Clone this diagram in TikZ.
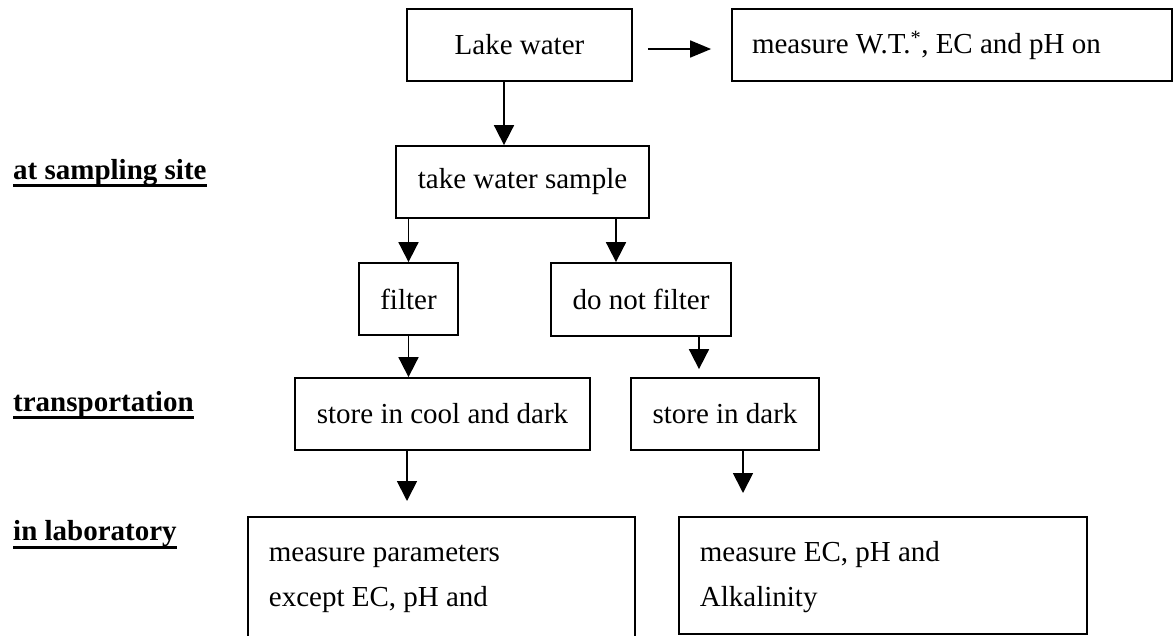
\documentclass[tikz,border=0pt]{standalone}
\usepackage{fontspec}
\setmainfont{Liberation Serif}
\usetikzlibrary{arrows.meta}
\begin{document}
\begin{tikzpicture}[x=1pt,y=-1pt,
  every node/.style={font=\fontsize{29}{45}\selectfont},
  box/.style={draw, line width=1.8pt, inner sep=0pt, minimum height=72pt},
  lbox/.style={draw, line width=1.8pt, anchor=north west, align=flush left, inner xsep=21pt, inner ysep=0pt, text height=45pt},
  lab/.style={anchor=base west, inner sep=0pt, font=\bfseries\fontsize{29}{35}\selectfont},
  ul/.style={line width=3pt},
  arr/.style={line width=1.8pt, -{Triangle[length=20pt,width=20pt]}},
  harr/.style={line width=1.8pt, -{Triangle[length=21pt,width=17pt]}},
]
\useasboundingbox (0,0) rectangle (1173,635);
\clip (0,0) rectangle (1173,635);

% boxes
\node[box, minimum width=225pt] (lake) at (519.5,45) {Lake water};
\node[box, minimum width=440pt, text width=400pt, align=flush left, inner xsep=20pt] (meas) at (952,45) {measure W.T.\textsuperscript{*}, EC and pH on};
\node[box, minimum width=253pt] (take) at (522.5,182) {take water sample};
\node[box, minimum width=99pt] (filter) at (408.5,299) {filter};
\node[box, minimum width=180pt, minimum height=73pt] (dnf) at (641,299.5) {do not filter};
\node[box, minimum width=295pt] (cool) at (442.5,414) {store in cool and dark};
\node[box, minimum width=188pt] (dark) at (725,414) {store in dark};
\node[lbox, text width=345pt, text depth=139pt] (labL) at (247,516) {measure parameters\\ except EC, pH and};
\node[lbox, text width=366pt, text depth=72pt] (labR) at (678,516) {measure EC, pH and\\ Alkalinity};

% stage labels
\node[lab] (s1) at (13,179) {at sampling site};
\node[lab] (s2) at (13,411) {transportation};
\node[lab] (s3) at (13,540) {in laboratory};
\draw[ul] ([yshift=-6pt]s1.base west) -- ([yshift=-6pt]s1.base east);
\draw[ul] ([yshift=-6pt]s2.base west) -- ([yshift=-6pt]s2.base east);
\draw[ul] ([yshift=-7pt]s3.base west) -- ([yshift=-7pt]s3.base east);

% connectors
\draw[harr, shorten <=15pt, shorten >=20pt] ([yshift=-4pt]lake.east) -- ([yshift=-4pt]meas.west);
\coordinate (a1) at ([xshift=-15.5pt]lake.south);
\draw[arr] (a1) -- (a1 |- take.north);
\draw[arr] (take.south -| filter.north) -- (filter.north);
\coordinate (a2) at ([xshift=-25pt]dnf.north);
\draw[arr] (take.south -| a2) -- (a2);
\draw[arr] (filter.south) -- (filter.south |- cool.north);
\coordinate (a3) at ([xshift=58pt]dnf.south);
\draw[arr, shorten >=8pt] (a3) -- (a3 |- dark.north);
\coordinate (a4) at ([xshift=-35.5pt]cool.south);
\draw[arr, shorten >=15pt] (a4) -- (a4 |- labL.north);
\coordinate (a5) at ([xshift=18pt]dark.south);
\draw[arr, shorten >=23pt] (a5) -- (a5 |- labR.north);
\end{tikzpicture}
\end{document}
